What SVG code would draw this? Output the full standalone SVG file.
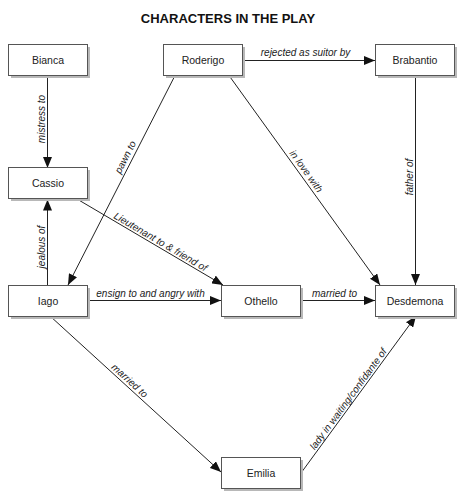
<svg xmlns="http://www.w3.org/2000/svg" width="466" height="500" viewBox="0 0 466 500">
<style>
.box{fill:#fff;stroke:#555;stroke-width:1}
.sh{fill:#b8b8b8}
.nt{font-family:"Liberation Sans",Arial,sans-serif;font-size:10.5px;fill:#222;text-anchor:middle}
.el{font-family:"Liberation Sans",Arial,sans-serif;font-size:10px;font-style:italic;fill:#222;text-anchor:middle}
.ln{fill:none;stroke:#222;stroke-width:1;marker-end:url(#ah)}
.title{font-family:"Liberation Sans",Arial,sans-serif;font-size:13px;font-weight:bold;fill:#111;text-anchor:middle}
</style>
<defs>
<marker id="ah" markerUnits="userSpaceOnUse" markerWidth="11" markerHeight="9" refX="11" refY="4.5" orient="auto">
<path d="M0,0 L11,4.5 L0,9 z" fill="#111"/>
</marker>
</defs>
<rect width="466" height="500" fill="#fff"/>
<text class="title" x="228" y="23">CHARACTERS IN THE PLAY</text>
<g id="connectors">
<path class="ln" d="M47.5,75.5 L47.5,168"/>
<path class="ln" d="M242,60.5 L375,60.5"/>
<path class="ln" d="M175,75.5 L68,285"/>
<path class="ln" d="M229,75.5 L380,285"/>
<path class="ln" d="M415.5,75.5 L415.5,285"/>
<path class="ln" d="M77,199 L223,285"/>
<path class="ln" d="M47.5,285 L47.5,199.5"/>
<path class="ln" d="M87,300.5 L221,300.5"/>
<path class="ln" d="M300,300.5 L375,300.5"/>
<path class="ln" d="M50,316 L221,472"/>
<path class="ln" d="M301,473 L416,316"/>
<text class="el" x="305.5" y="56">rejected as suitor by</text>
<text class="el" transform="translate(45,119) rotate(-90)">mistress to</text>
<text class="el" transform="translate(131,160) rotate(-63)" y="-3">pawn to</text>
<text class="el" transform="translate(301,175) rotate(54.3)" y="-3">in love with</text>
<text class="el" transform="translate(412.5,177) rotate(-90)">father of</text>
<text class="el" transform="translate(157.3,247.3) rotate(30.5)" y="-3">Lieutenant to &amp; friend of</text>
<text class="el" transform="translate(45,247) rotate(-90)">jealous of</text>
<text class="el" x="150.5" y="296.5">ensign to and angry with</text>
<text class="el" x="334.5" y="296.5">married to</text>
<text class="el" transform="translate(125.8,385) rotate(42.4)" y="-2.5">married to</text>
<text class="el" transform="translate(353.4,402.8) rotate(-53.8)" y="-3">lady in waiting/confidante of</text>
</g>
<g id="bianca"><rect class="sh" x="11" y="47" width="79" height="31"/><rect class="box" x="8.5" y="44.5" width="79" height="31"/><text class="nt" x="48" y="64">Bianca</text></g>
<g id="roderigo"><rect class="sh" x="166" y="47" width="79" height="31"/><rect class="box" x="163.5" y="44.5" width="79" height="31"/><text class="nt" x="203" y="64">Roderigo</text></g>
<g id="brabantio"><rect class="sh" x="378" y="47" width="79" height="31"/><rect class="box" x="375.5" y="44.5" width="79" height="31"/><text class="nt" x="415" y="64">Brabantio</text></g>
<g id="cassio"><rect class="sh" x="11" y="170" width="79" height="31"/><rect class="box" x="8.5" y="167.5" width="79" height="31"/><text class="nt" x="48" y="187">Cassio</text></g>
<g id="iago"><rect class="sh" x="11" y="288" width="79" height="31"/><rect class="box" x="8.5" y="285.5" width="79" height="31"/><text class="nt" x="48" y="304.5">Iago</text></g>
<g id="othello"><rect class="sh" x="224" y="288" width="79" height="31"/><rect class="box" x="221.5" y="285.5" width="79" height="31"/><text class="nt" x="261" y="304.5">Othello</text></g>
<g id="desdemona"><rect class="sh" x="378" y="288" width="79" height="31"/><rect class="box" x="375.5" y="285.5" width="79" height="31"/><text class="nt" x="415" y="304.5">Desdemona</text></g>
<g id="emilia"><rect class="sh" x="224" y="460" width="79" height="31"/><rect class="box" x="221.5" y="457.5" width="79" height="31"/><text class="nt" x="261" y="476.5">Emilia</text></g>
</svg>
